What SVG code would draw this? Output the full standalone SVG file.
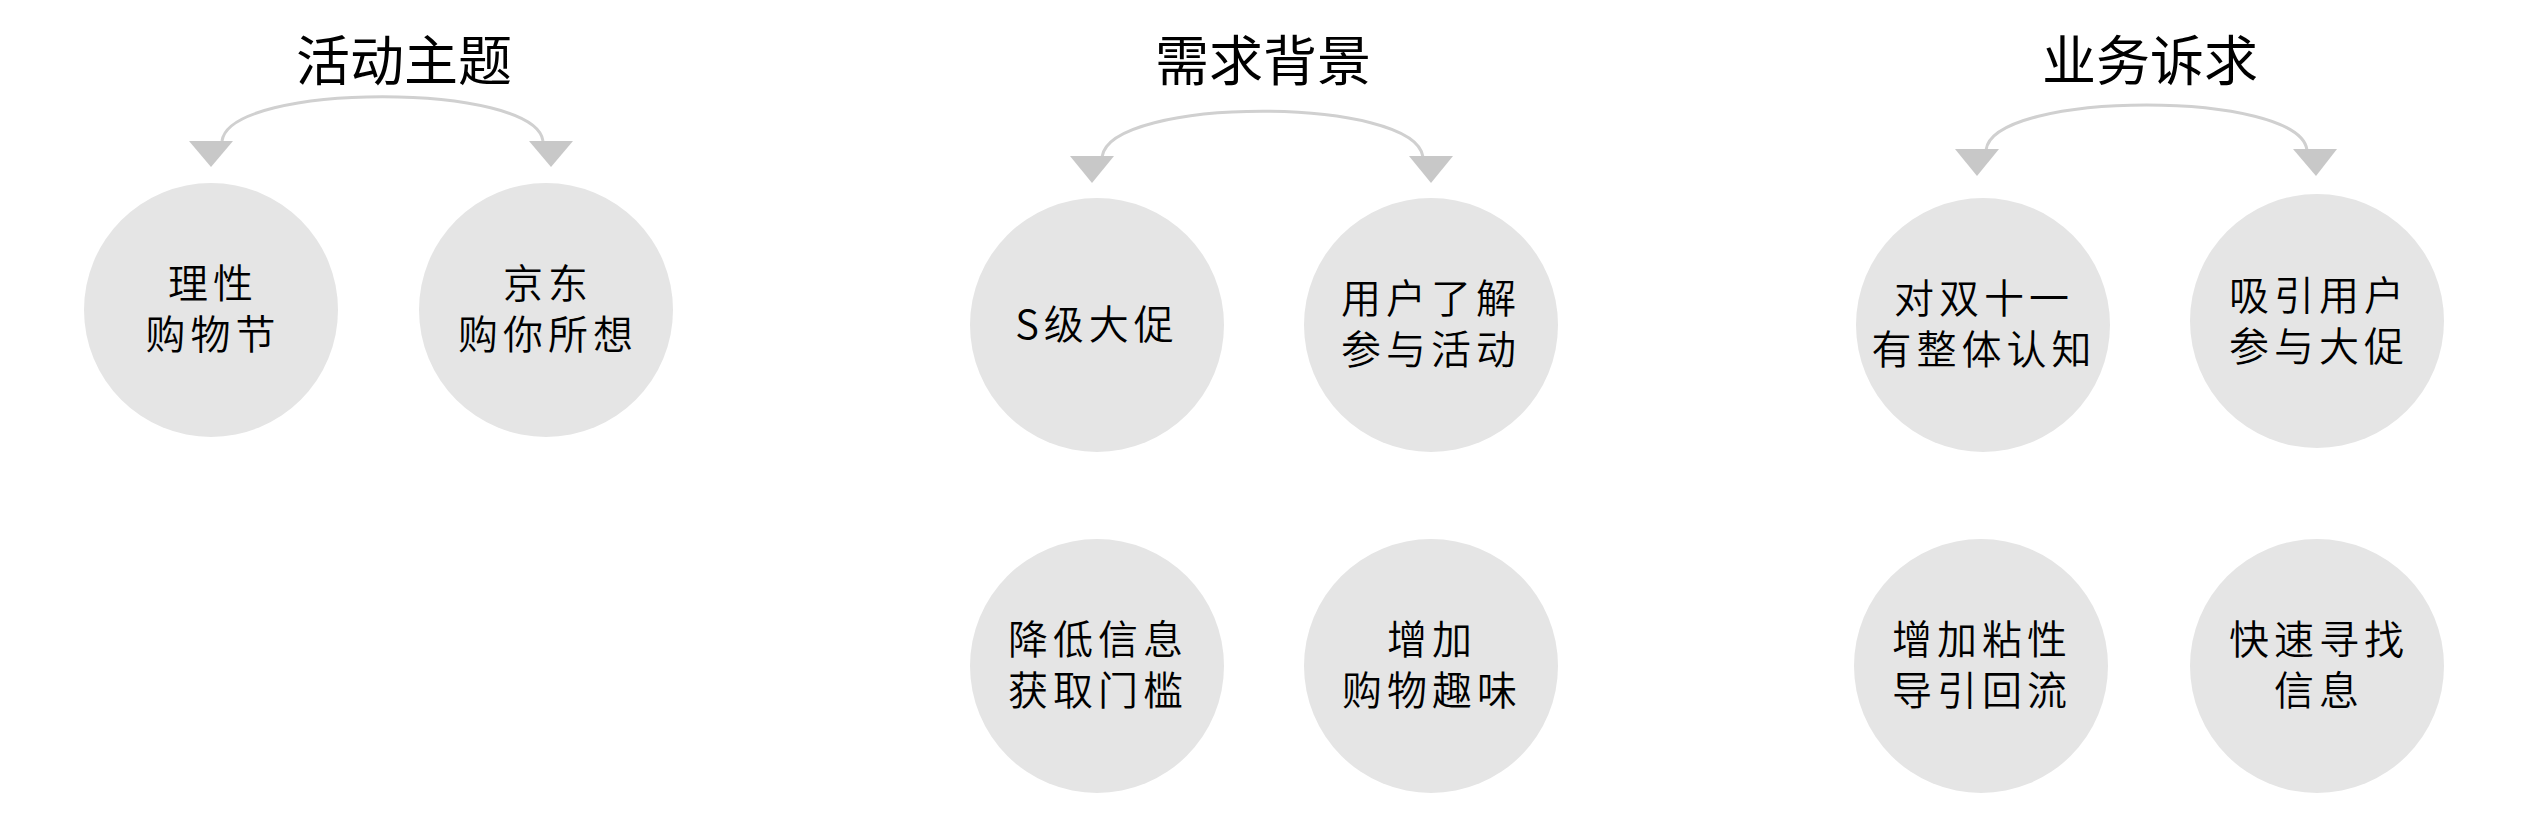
<svg xmlns="http://www.w3.org/2000/svg" width="2526" height="822" viewBox="0 0 2526 822">
<style>
.bg{fill:#ffffff}
.node{fill:#e5e5e5}
.title{font-family:"Noto Sans CJK SC","Noto Sans",sans-serif;font-size:54px;font-weight:400;fill:#000;text-anchor:middle}
.lbl{font-family:"Noto Sans CJK SC","Noto Sans",sans-serif;font-size:40px;font-weight:350;fill:#000;text-anchor:middle;letter-spacing:5px}
.arc{fill:none;stroke:#d0d0d0;stroke-width:3}
.head{fill:#c8c8c8}
</style>
<rect class="bg" x="0" y="0" width="2526" height="822"/>
<g id="titles">
<text class="title" x="404" y="81">活动主题</text>
<text class="title" x="1263" y="81">需求背景</text>
<text class="title" x="2150" y="81">业务诉求</text>
</g>
<g id="connectors">
<path class="arc" d="M222,141 C230,82 535,82 543,141"/>
<polygon class="head" points="189,141 233,141 211,167"/>
<polygon class="head" points="529,141 573,141 551,167"/>
<path class="arc" d="M1102,157 C1110,96 1415,96 1423,157"/>
<polygon class="head" points="1070,156 1114,156 1092,183"/>
<polygon class="head" points="1409,156 1453,156 1431,183"/>
<path class="arc" d="M1986,150 C1994,90 2299,90 2307,150"/>
<polygon class="head" points="1955,149 1999,149 1977,176"/>
<polygon class="head" points="2293,149 2337,149 2316,176"/>
</g>
<g id="n1"><circle class="node" cx="211" cy="310" r="127"/><text class="lbl" y="298"><tspan x="213">理性</tspan><tspan x="213" dy="51">购物节</tspan></text></g>
<g id="n2"><circle class="node" cx="546" cy="310" r="127"/><text class="lbl" y="298"><tspan x="548">京东</tspan><tspan x="548" dy="51">购你所想</tspan></text></g>
<g id="n3"><circle class="node" cx="1097" cy="325" r="127"/><text class="lbl" x="1097" y="339">S级大促</text></g>
<g id="n4"><circle class="node" cx="1431" cy="325" r="127"/><text class="lbl" y="313"><tspan x="1431">用户了解</tspan><tspan x="1431" dy="51">参与活动</tspan></text></g>
<g id="n5"><circle class="node" cx="1097" cy="666" r="127"/><text class="lbl" y="654"><tspan x="1098">降低信息</tspan><tspan x="1098" dy="51">获取门槛</tspan></text></g>
<g id="n6"><circle class="node" cx="1431" cy="666" r="127"/><text class="lbl" y="654"><tspan x="1432">增加</tspan><tspan x="1432" dy="51">购物趣味</tspan></text></g>
<g id="n7"><circle class="node" cx="1983" cy="325" r="127"/><text class="lbl" y="313"><tspan x="1984">对双十一</tspan><tspan x="1984" dy="51">有整体认知</tspan></text></g>
<g id="n8"><circle class="node" cx="2317" cy="321" r="127"/><text class="lbl" y="310"><tspan x="2319">吸引用户</tspan><tspan x="2319" dy="51">参与大促</tspan></text></g>
<g id="n9"><circle class="node" cx="1981" cy="666" r="127"/><text class="lbl" y="654"><tspan x="1982">增加粘性</tspan><tspan x="1982" dy="51">导引回流</tspan></text></g>
<g id="n10"><circle class="node" cx="2317" cy="666" r="127"/><text class="lbl" y="654"><tspan x="2319">快速寻找</tspan><tspan x="2319" dy="51">信息</tspan></text></g>
</svg>
